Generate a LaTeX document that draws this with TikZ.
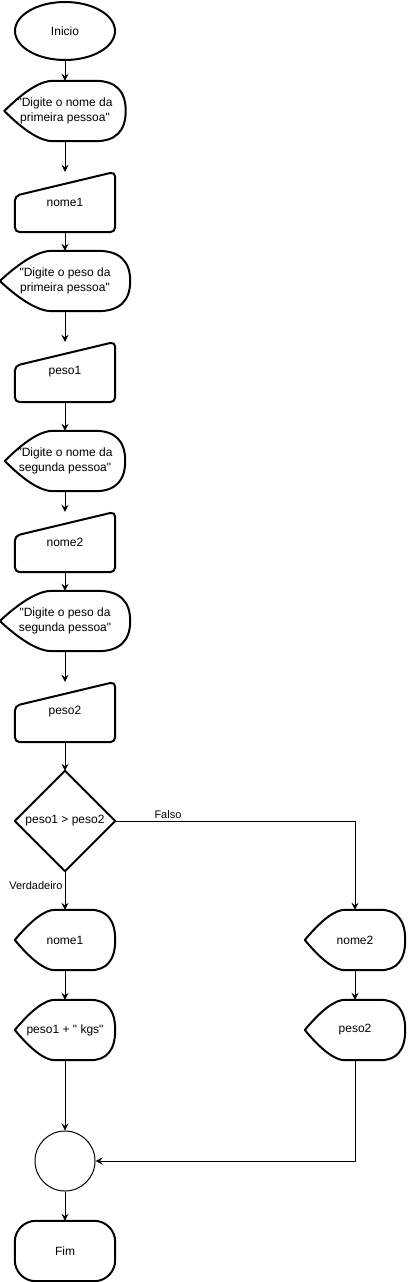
\documentclass[tikz,border=0pt]{standalone}
\usepackage{fontspec}
\setmainfont{Liberation Sans}[Ligatures=TeXOff]
\usetikzlibrary{shapes.geometric,arrows.meta,calc}
\tikzset{
  lbox/.style={rectangle, inner sep=0pt, align=center, font=\fontsize{12}{15}\selectfont},
  shp/.style={draw=black, line width=2pt, line join=round},
  arr/.style={draw=black, line width=1pt, -{Stealth[length=7pt,width=7pt,inset=2.5pt]}},
  lbl/.style={font=\fontsize{11}{13}\selectfont, inner sep=2pt},
}
\newcommand\dispoutline[1]{%
  \draw[shp] let \p1=(#1.north west), \p2=(#1.south east),
    \n1={\x2-\x1}, \n2={(\y1+\y2)/2}, \n3={\y1-\y2} in
    (\x1,\n2)
    .. controls ({\x1+\n1/6},{\n2+\n3/3}) and ({\x1+0.3*\n1},\y1) .. ({\x1+0.4*\n1},\y1)
    -- ({\x2-0.25*\n1},\y1)
    .. controls ({\x2-\n1/12},\y1) and (\x2,{\n2+\n3/3}) .. (\x2,\n2)
    .. controls (\x2,{\n2-\n3/3}) and ({\x2-\n1/12},\y2) .. ({\x2-0.25*\n1},\y2)
    -- ({\x1+0.4*\n1},\y2)
    .. controls ({\x1+0.3*\n1},\y2) and ({\x1+\n1/6},{\n2-\n3/3}) .. (\x1,\n2) -- cycle;}
\newcommand\manoutline[1]{%
  \draw[shp, rounded corners=5pt] let \p1=(#1.north west), \p2=(#1.south east) in
    (\x1,{\y2+20}) -- (\x1,{\y1-24}) -- (\x2,\y1) -- (\x2,\y2) -- (\x1,\y2) -- cycle;}
\begin{document}
\begin{tikzpicture}[x=1pt,y=1pt]
\useasboundingbox (0,0) rectangle (407,-1282);
% start
\node[lbox, shp, ellipse, minimum width=100pt, minimum height=58pt] (ini) at (65,-31) {Inicio};
% inputs
\node[lbox, minimum width=121pt, minimum height=60pt] (d1) at (65,-111) {"Digite o nome da\\primeira pessoa"};
\dispoutline{d1}
\node[lbox, minimum width=100pt, minimum height=60pt] (m1) at (65,-202) {nome1};
\manoutline{m1}
\node[lbox, minimum width=130pt, minimum height=60pt] (d2) at (65,-281) {"Digite o peso da\\primeira pessoa"};
\dispoutline{d2}
\node[lbox, minimum width=100pt, minimum height=60pt] (m2) at (65,-372) {peso1};
\manoutline{m2}
\node[lbox, minimum width=120pt, minimum height=60pt] (d3) at (65,-461) {"Digite o nome da\\segunda pessoa"};
\dispoutline{d3}
\node[lbox, minimum width=100pt, minimum height=60pt] (m3) at (65,-542) {nome2};
\manoutline{m3}
\node[lbox, minimum width=130pt, minimum height=60pt] (d4) at (65,-621) {"Digite o peso da\\segunda pessoa"};
\dispoutline{d4}
\node[lbox, minimum width=100pt, minimum height=60pt] (m4) at (65,-712) {peso2};
\manoutline{m4}
% decision
\node[lbox, minimum width=100pt, minimum height=100pt] (dia) at (65,-821) {peso1 > peso2};
\draw[shp] (dia.north) -- (dia.east) -- (dia.south) -- (dia.west) -- cycle;
% outputs
\node[lbox, minimum width=100pt, minimum height=60pt] (o1) at (65,-940) {nome1};
\dispoutline{o1}
\node[lbox, minimum width=100pt, minimum height=60pt] (o2) at (355,-940) {nome2};
\dispoutline{o2}
\node[lbox, minimum width=100pt, minimum height=60pt] (o3) at (65,-1030) {peso1 + " kgs"};
\dispoutline{o3}
\node[lbox, minimum width=100pt, minimum height=60pt] (o4) at (355,-1030) {peso2};
\dispoutline{o4}
% join and end
\node[circle, draw=black, line width=1pt, minimum size=60pt, inner sep=0pt] (c) at (65,-1161) {};
\node[lbox, minimum width=100pt, minimum height=60pt] (fim) at (65,-1251) {Fim};
\draw[shp, rounded corners=21pt] (fim.north west) rectangle (fim.south east);
% connectors
\draw[arr] (ini.south) -- (d1.north);
\draw[arr] (d1.south) -- (m1.north);
\draw[arr] (m1.south) -- (d2.north);
\draw[arr] (d2.south) -- (m2.north);
\draw[arr] (m2.south) -- (d3.north);
\draw[arr] (d3.south) -- (m3.north);
\draw[arr] (m3.south) -- (d4.north);
\draw[arr] (d4.south) -- (m4.north);
\draw[arr] (m4.south) -- (dia.north);
\draw[arr] (dia.south) -- node[lbl, anchor=east, pos=0.36] {Verdadeiro} (o1.north);
\draw[arr] (dia.east) -| node[lbl, anchor=south, pos=0.11] {Falso} (o2.north);
\draw[arr] (o1.south) -- (o3.north);
\draw[arr] (o2.south) -- (o4.north);
\draw[arr] (o3.south) -- (c.north);
\draw[arr] (o4.south) |- (c.east);
\draw[arr] (c.south) -- (fim.north);
\end{tikzpicture}
\end{document}
